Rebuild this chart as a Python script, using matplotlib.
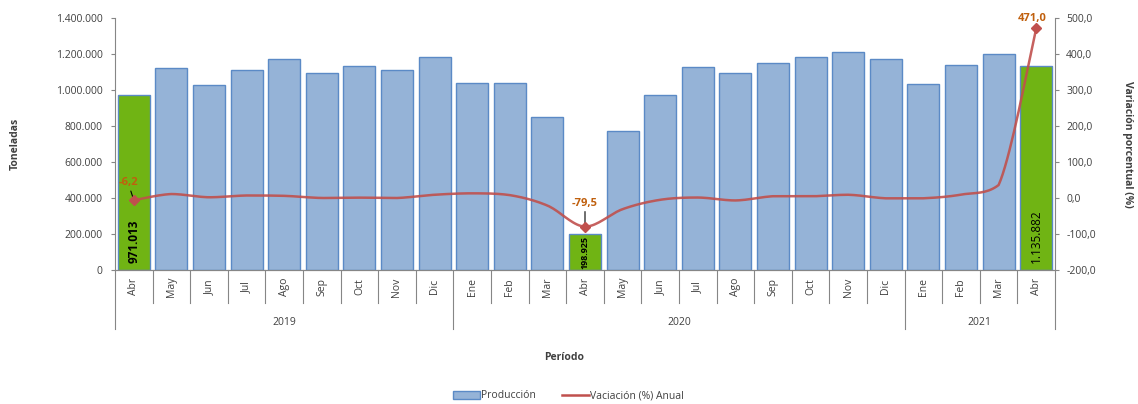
import numpy as np
import matplotlib.pyplot as plt
from matplotlib.transforms import blended_transform_factory
from matplotlib.patches import Patch
from matplotlib.lines import Line2D

plt.rcParams['font.family'] = ['Open Sans', 'DejaVu Sans']

months = ['Abr', 'May', 'Jun', 'Jul', 'Ago', 'Sep', 'Oct', 'Nov', 'Dic',
          'Ene', 'Feb', 'Mar', 'Abr', 'May', 'Jun', 'Jul', 'Ago', 'Sep', 'Oct', 'Nov', 'Dic',
          'Ene', 'Feb', 'Mar', 'Abr']
years = ['2019', '2020', '2021']
year_counts = [9, 12, 4]

produccion = [971013, 1120500, 1026000, 1113000, 1174000, 1094000, 1133000, 1113000, 1185000,
              1041000, 1041000, 848000, 198925, 774000, 974000, 1128000, 1094000, 1148000,
              1185000, 1213000, 1174000, 1033000, 1139000, 1202000, 1135882]
variacion = [-6.2, 11, 2, 7, 6, 0, 1, 0, 9,
             13, 8, -21, -79.5, -31, -5, 1.3, -6.8, 4.9, 4.6, 9.0, -0.9,
             -0.8, 9.4, 36, 471.0]
destacados = [0, 12, 24]   # meses de abril resaltados

BLUE = '#95B3D7'
GREEN = '#70B414'
RED = '#C0504D'
LABEL = '#C0600E'
GRAY = '#868686'
TXT = '#404040'


def smooth(x, y, n=20):
    # curva suavizada tipo excel (catmull-rom con bezier, control acotado)
    x = np.asarray(x, float)
    y = np.asarray(y, float)
    px = np.concatenate([[x[0]], x, [x[-1]]])
    py = np.concatenate([[y[0]], y, [y[-1]]])
    xs, ys = [], []
    t = np.linspace(0, 1, n)
    for i in range(1, len(px) - 2):
        p0, p1, p2, p3 = (np.array([px[j], py[j]]) for j in (i - 1, i, i + 1, i + 2))
        c1 = p1 + (p2 - p0) / 6
        c2 = p2 - (p3 - p1) / 6
        lo, hi = min(p1[1], p2[1]), max(p1[1], p2[1])
        c1[1] = np.clip(c1[1], lo, hi)
        c2[1] = np.clip(c2[1], lo, hi)
        b = ((1 - t) ** 3)[:, None] * p1 + (3 * (1 - t) ** 2 * t)[:, None] * c1 \
            + (3 * (1 - t) * t ** 2)[:, None] * c2 + (t ** 3)[:, None] * p2
        xs.extend(b[:, 0])
        ys.extend(b[:, 1])
    return np.array(xs), np.array(ys)


fig = plt.figure(figsize=(11.38, 4.04), dpi=100)
ax = fig.add_axes([115 / 1138, 1 - 270 / 404, 940 / 1138, 252 / 404])
ax2 = ax.twinx()

x = np.arange(len(months))
colors = [GREEN if i in destacados else BLUE for i in x]
ax.bar(x, produccion, width=0.85, color=colors, edgecolor='#5B8AC6', linewidth=1, zorder=2)
ax.set_xlim(-0.5, len(months) - 0.5)
ax.set_ylim(0, 1400000)
ax.set_yticks(np.arange(0, 1400001, 200000))
ax.set_yticklabels([f'{int(v):,}'.replace(',', '.') for v in ax.get_yticks()])
ax.set_xticks([])

# etiquetas de las barras destacadas
ax.text(0, 38000, '971.013', rotation=90, ha='center', va='bottom', fontsize=8.5,
        fontweight='bold', color='black', zorder=5)
ax.text(12, 3000, '198.925', rotation=90, ha='center', va='bottom', fontsize=6.5,
        fontweight='bold', color='black', zorder=5)
ax.text(24, 38000, '1.135.882', rotation=90, ha='center', va='bottom', fontsize=8.5,
        color='black', zorder=5)

sx, sy = smooth(x, variacion)
ax2.plot(sx, sy, color=RED, linewidth=1.8, alpha=0.9, zorder=3)
ax2.plot([x[i] for i in destacados], [variacion[i] for i in destacados], 'D',
         color=RED, markersize=5, zorder=4)
ax2.set_ylim(-200, 500)
ax2.set_yticks(np.arange(-200, 501, 100))
ax2.set_yticklabels([f'{v:.1f}'.replace('.', ',') for v in ax2.get_yticks()])

ax2.annotate('-6,2', xy=(0, variacion[0]), xytext=(-0.15, 27), ha='center', va='bottom',
             fontsize=8, fontweight='bold', color=LABEL,
             arrowprops=dict(arrowstyle='-', color='black', lw=0.8, shrinkA=0, shrinkB=2))
ax2.annotate('-79,5', xy=(12, variacion[12]), xytext=(12, -30), ha='center', va='bottom',
             fontsize=8, fontweight='bold', color=LABEL,
             arrowprops=dict(arrowstyle='-', color='black', lw=0.8, shrinkA=0, shrinkB=2))
ax2.annotate('471,0', xy=(24, variacion[24]), xytext=(-3, 3), textcoords='offset points',
             ha='center', va='bottom', fontsize=8, fontweight='bold', color=LABEL)

for a in (ax, ax2):
    a.spines['top'].set_visible(False)
    for s in ('left', 'right', 'bottom'):
        a.spines[s].set_color(GRAY)
    a.tick_params(axis='y', colors=GRAY, labelcolor=TXT, labelsize=7.5, length=3, width=0.8)
ax.tick_params(axis='y', pad=6)
ax2.tick_params(axis='y', pad=5)
ax.spines['right'].set_visible(False)
ax2.spines['left'].set_visible(False)

# eje de categorias en dos niveles
tr = blended_transform_factory(ax.transData, ax.transAxes)
for i, m in enumerate(months):
    ax.text(i, -0.067, m, rotation=90, ha='center', va='center', fontsize=7.5,
            color=TXT, transform=tr)
bounds = np.arange(-0.5, len(months), 1.0)
year_edges = np.concatenate([[0], np.cumsum(year_counts)]) - 0.5
for b in bounds:
    low = -0.234 if b in year_edges else -0.131
    ax.plot([b, b], [0, low], color=GRAY, lw=0.8, transform=tr, clip_on=False)
for k, yr in enumerate(years):
    c = (year_edges[k] + year_edges[k + 1]) / 2
    ax.text(c, -0.21, yr, ha='center', va='center', fontsize=7.5, color=TXT, transform=tr)

fig.text(15 / 1138, 1 - 144 / 404, 'Toneladas', rotation=90, ha='center', va='center',
         fontsize=7.5, fontweight='bold', color=TXT)
fig.text(1128 / 1138, 1 - 144 / 404, 'Variación porcentual (%)', rotation=-90, ha='center',
         va='center', fontsize=7.5, fontweight='bold', color=TXT)
fig.text(564 / 1138, 1 - 358 / 404, 'Período', ha='center', va='center',
         fontsize=7.5, fontweight='bold', color=TXT)

handles = [Patch(facecolor=BLUE, edgecolor='#5B8AC6', label='Producción'),
           Line2D([0], [0], color=RED, lw=1.8, label='Vaciación (%) Anual')]
fig.legend(handles=handles, loc='center', bbox_to_anchor=(568 / 1138, 1 - 396 / 404), ncol=2,
           frameon=False, fontsize=7.5, handlelength=2.6, handleheight=0.9,
           handletextpad=0.1, columnspacing=2.5, labelcolor=TXT)

fig.savefig('out.png', dpi=100)
